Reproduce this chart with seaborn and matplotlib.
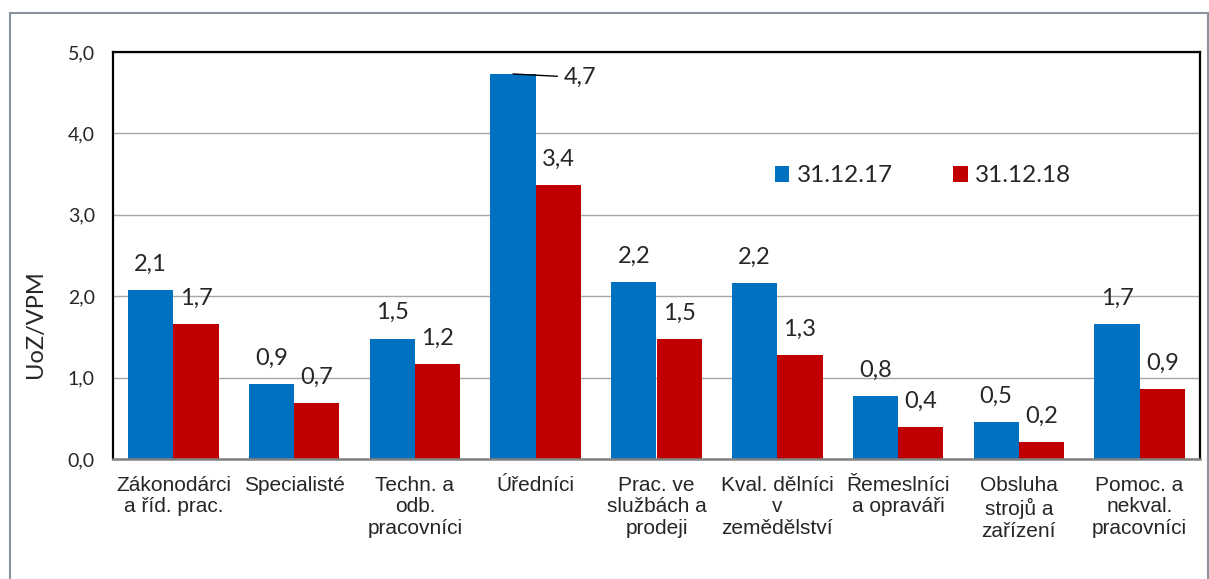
import matplotlib
matplotlib.use("Agg")
import matplotlib.pyplot as plt
import seaborn as sns
import pandas as pd
from matplotlib.patches import Rectangle
from matplotlib.ticker import FuncFormatter

categories = ["Zákonodárci\na říd. prac.", "Specialisté", "Techn. a\nodb.\npracovníci",
              "Úředníci", "Prac. ve\nslužbách a\nprodeji", "Kval. dělníci\nv\nzemědělství",
              "Řemeslníci\na opraváři", "Obsluha\nstrojů a\nzařízení", "Pomoc. a\nnekval.\npracovníci"]
series_names = ["31.12.17", "31.12.18"]
values_2017 = [2.08, 0.92, 1.48, 4.73, 2.17, 2.16, 0.77, 0.46, 1.66]
values_2018 = [1.66, 0.69, 1.17, 3.37, 1.47, 1.28, 0.39, 0.21, 0.86]
y_ticks = [0, 1, 2, 3, 4, 5]
y_label = "UoZ/VPM"

blue = "#0070C0"
red = "#C00000"
label_font = "Lato"
cat_font = "Liberation Sans"

df = pd.DataFrame({
    "cat": categories * 2,
    "val": values_2017 + values_2018,
    "series": [series_names[0]] * len(categories) + [series_names[1]] * len(categories),
})

sns.set_style("white")
plt.rcParams["font.family"] = [label_font, "DejaVu Sans"]

fig = plt.figure(figsize=(12.09, 5.79), dpi=100)
ax = fig.add_axes([113 / 1209, 1 - 459 / 579, (1200 - 113) / 1209, (459 - 52) / 579])

sns.barplot(data=df, x="cat", y="val", hue="series", palette=[blue, red],
            width=0.75, gap=0, ax=ax, saturation=1, edgecolor="none", linewidth=0)

ax.set_ylim(0, 5)
ax.set_xlim(-0.5, len(categories) - 0.5)
ax.set_yticks(y_ticks)
ax.yaxis.set_major_formatter(FuncFormatter(lambda v, p: f"{v:.1f}".replace(".", ",")))
ax.grid(axis="y", color="#a6a6a6", linewidth=1.0)
ax.set_axisbelow(True)
ax.tick_params(axis="y", length=0, pad=13, labelsize=14)
ax.tick_params(axis="x", length=0, pad=12)
for lab in ax.get_xticklabels():
    lab.set_fontfamily(cat_font)
    lab.set_fontsize(15)
    lab.set_linespacing(1.18)
ax.set_xlabel("")
ax.set_ylabel(y_label, fontsize=17)
ax.yaxis.set_label_coords(-0.062, (459 - 324) / 407)

for side in ["left", "top", "right"]:
    ax.spines[side].set_color("black")
    ax.spines[side].set_linewidth(1.6)
ax.spines["bottom"].set_color("#808080")
ax.spines["bottom"].set_linewidth(1.8)

# data labels
for container in ax.containers:
    for bar in container:
        h = bar.get_height()
        txt = f"{h:.1f}".replace(".", ",")
        xc = bar.get_x() + bar.get_width() / 2
        if h > 4.5:
            ax.annotate(txt, (xc, h), xytext=(48, -2.5), textcoords="offset points",
                        ha="center", va="center", fontsize=17,
                        arrowprops=dict(arrowstyle="-", color="black", lw=1.0,
                                        shrinkA=2, shrinkB=0))
        else:
            ax.annotate(txt, (xc, h), xytext=(0, 18.5), textcoords="offset points",
                        ha="center", va="center", fontsize=17)

ax.legend(loc="center", bbox_to_anchor=((923 - 113) / 1087, (459 - 176) / 407),
          ncol=2, frameon=False, fontsize=17.5, handlelength=0.6, handleheight=0.6,
          handletextpad=0.3, columnspacing=2.5, title=None)

# figure frame
fig.patches.append(Rectangle((10 / 1209, -0.02), (1208 - 10) / 1209, (579 - 13) / 579 + 0.02,
                             transform=fig.transFigure, fill=False,
                             edgecolor="#8a939e", linewidth=1.5, clip_on=False))

fig.savefig("out.png", dpi=100)
